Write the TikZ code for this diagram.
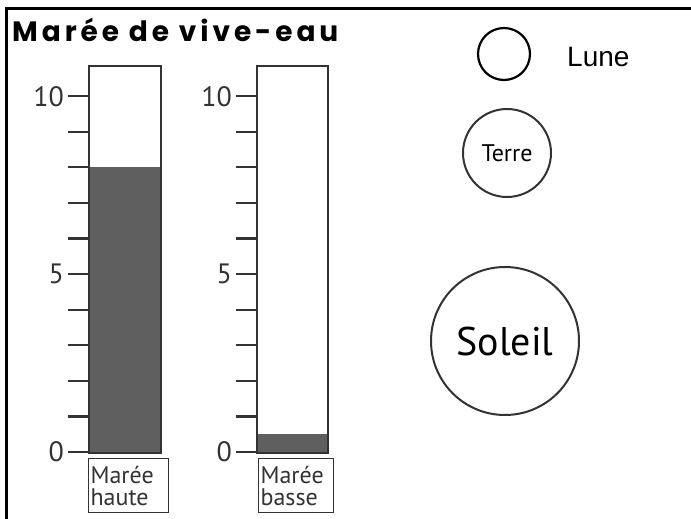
\documentclass[tikz,border=0pt]{standalone}
\usepackage{fontspec}
\setmainfont{PT Sans}
\newfontfamily\titlefont[LetterSpace=14]{Poppins}
\newfontfamily\arialfont{Liberation Sans}
\definecolor{barfill}{HTML}{5F5F5F}
\definecolor{linegray}{HTML}{333333}
\tikzset{
  barbox/.style={draw=linegray, line width=2pt, minimum width=72pt, minimum height=387pt, anchor=north west, inner sep=0pt},
  tick/.style={draw=linegray, line width=2.2pt},
  num/.style={anchor=east, inner sep=1pt, font=\fontsize{28}{30}\selectfont, text=linegray},
  labbox/.style={draw=linegray, line width=1.2pt, anchor=north west, text width=76pt, minimum height=54pt, inner xsep=2pt, inner ysep=3pt, align=left, font=\fontsize{24}{22}\selectfont, text=linegray},
  body/.style={circle, draw=linegray, line width=2pt, inner sep=0pt}
}
\begin{document}
\begin{tikzpicture}[x=1pt,y=-1pt]
\useasboundingbox (0,0) rectangle (691,519);
\fill[white] (0,0) rectangle (691,519);
% frame
\draw[line width=3pt, line cap=rect] (6,519) -- (6,9) -- (691,9);
% title
\node[anchor=base west, inner sep=0pt, font=\titlefont\bfseries\fontsize{28}{30}\selectfont] (title) at (12,42) {Marée de vive-eau};
% bar fills
\fill[barfill] (88,167) rectangle (160,452);
\fill[barfill] (256,434) rectangle (327,452);
% bars
\node[barbox] (bar1) at (88,65) {};
\node[barbox, minimum width=71pt] (bar2) at (256,65) {};
% ticks
\foreach \i in {0,...,10} {
  \draw[tick] (68,{452-\i*35.6}) -- (88,{452-\i*35.6});
  \draw[tick] (236,{452-\i*35.6}) -- (256,{452-\i*35.6});
}
% numbers
\node[num] (a10) at (65,97) {10};
\node[num] (a5) at (65,274) {5};
\node[num] (a0) at (65,452) {0};
\node[num] (b10) at (233,97) {10};
\node[num] (b5) at (233,274) {5};
\node[num] (b0) at (233,452) {0};
% labels
\node[labbox] (lab1) at (88,458) {Marée\\haute};
\node[labbox, text width=71pt] (lab2) at (258,458) {Marée\\basse};
% bodies
\node[body, draw=black, line width=2.2pt, minimum size=52pt] (lune) at (504,54) {};
\node[anchor=west, inner sep=0pt, font=\arialfont\fontsize{28}{30}\selectfont] (lunelab) at (567,57) {Lune};
\node[body, minimum size=88pt, font=\fontsize{24}{26}\selectfont] (terre) at (507,153) {Terre};
\node[body, minimum size=148pt, font=\fontsize{40}{44}\selectfont] (soleil) at (505,341) {Soleil};
\end{tikzpicture}
\end{document}
